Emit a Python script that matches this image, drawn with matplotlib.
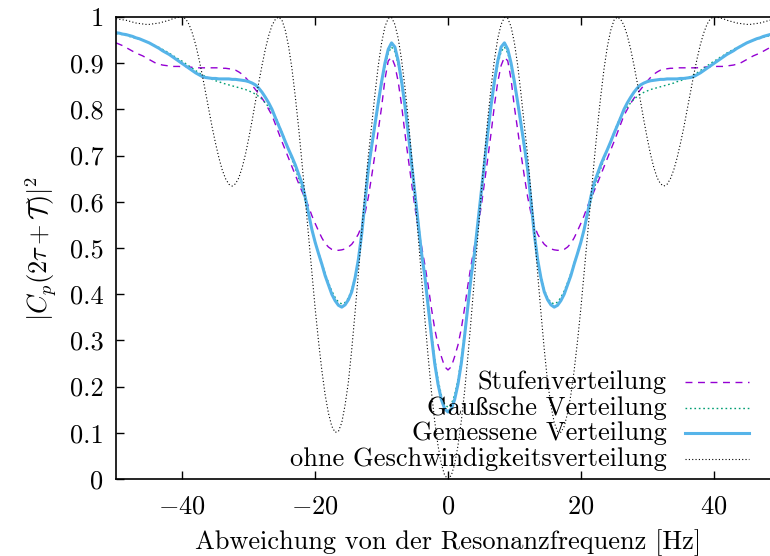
import numpy as np
import matplotlib
matplotlib.use("Agg")
import matplotlib.pyplot as plt
from matplotlib.lines import Line2D

plt.rcParams['font.family'] = ['cmr10', 'Liberation Serif', 'DejaVu Serif']
plt.rcParams['mathtext.fontset'] = 'cm'
plt.rcParams['axes.formatter.use_mathtext'] = True
plt.rcParams['axes.unicode_minus'] = True

# Detuning grid (Hz) for the non-negative half; all curves are symmetric in detuning
x_half = np.arange(0, 50.5, 0.5)

# Step-shaped velocity distribution
stufen_half = [
    0.236, 0.243, 0.265, 0.290, 0.325, 0.370, 0.420, 0.465, 0.505, 0.545,
    0.590, 0.642, 0.695, 0.750, 0.810, 0.860, 0.895, 0.913, 0.905, 0.865,
    0.805, 0.755, 0.703, 0.655, 0.610, 0.575, 0.548, 0.530, 0.518, 0.508,
    0.502, 0.498, 0.496, 0.495, 0.495, 0.497, 0.502, 0.510, 0.522, 0.537,
    0.553, 0.570, 0.590, 0.607, 0.623, 0.640, 0.658, 0.676, 0.694, 0.712,
    0.730, 0.749, 0.768, 0.787, 0.800, 0.813, 0.824, 0.834, 0.843, 0.852,
    0.861, 0.869, 0.876, 0.881, 0.885, 0.887, 0.888, 0.889, 0.889, 0.890,
    0.890, 0.890, 0.890, 0.890, 0.890, 0.890, 0.891, 0.891, 0.892, 0.892,
    0.892, 0.893, 0.893, 0.893, 0.894, 0.895, 0.896, 0.898, 0.900, 0.904,
    0.908, 0.912, 0.916, 0.919, 0.922, 0.926, 0.930, 0.934, 0.938, 0.941,
    0.944,
]

# Gaussian velocity distribution
gauss_half = [
    0.155, 0.162, 0.182, 0.215, 0.260, 0.318, 0.382, 0.446, 0.498, 0.560,
    0.622, 0.685, 0.747, 0.805, 0.855, 0.897, 0.925, 0.935, 0.922, 0.893,
    0.855, 0.810, 0.763, 0.714, 0.662, 0.595, 0.528, 0.475, 0.437, 0.410,
    0.392, 0.382, 0.379, 0.383, 0.393, 0.407, 0.425, 0.445, 0.468, 0.490,
    0.513, 0.540, 0.570, 0.600, 0.628, 0.650, 0.672, 0.692, 0.712, 0.732,
    0.750, 0.768, 0.785, 0.795, 0.805, 0.814, 0.822, 0.828, 0.833, 0.837,
    0.840, 0.843, 0.845, 0.847, 0.849, 0.851, 0.853, 0.855, 0.857, 0.860,
    0.862, 0.865, 0.868, 0.871, 0.875, 0.879, 0.884, 0.889, 0.894, 0.899,
    0.904, 0.908, 0.913, 0.917, 0.922, 0.926, 0.930, 0.934, 0.937, 0.941,
    0.944, 0.947, 0.950, 0.952, 0.954, 0.956, 0.958, 0.960, 0.962, 0.963,
    0.964,
]

# Measured velocity distribution
gemessen_half = [
    0.145, 0.152, 0.172, 0.205, 0.250, 0.310, 0.375, 0.440, 0.490, 0.555,
    0.620, 0.685, 0.750, 0.810, 0.862, 0.905, 0.935, 0.944, 0.930, 0.900,
    0.860, 0.815, 0.768, 0.720, 0.670, 0.600, 0.530, 0.475, 0.435, 0.405,
    0.388, 0.377, 0.372, 0.376, 0.386, 0.400, 0.420, 0.440, 0.465, 0.488,
    0.512, 0.540, 0.575, 0.610, 0.640, 0.660, 0.680, 0.697, 0.713, 0.730,
    0.748, 0.765, 0.782, 0.800, 0.814, 0.826, 0.837, 0.846, 0.853, 0.857,
    0.860, 0.862, 0.863, 0.864, 0.865, 0.865, 0.866, 0.866, 0.866, 0.866,
    0.867, 0.867, 0.868, 0.869, 0.871, 0.875, 0.879, 0.884, 0.889, 0.894,
    0.899, 0.904, 0.909, 0.914, 0.919, 0.923, 0.927, 0.932, 0.936, 0.940,
    0.944, 0.947, 0.950, 0.953, 0.955, 0.958, 0.960, 0.962, 0.963, 0.965,
    0.966,
]

# Without velocity distribution
ohne_half = [
    0.000, 0.008, 0.032, 0.072, 0.125, 0.190, 0.266, 0.349, 0.437, 0.527,
    0.617, 0.702, 0.781, 0.850, 0.908, 0.954, 0.984, 0.999, 0.997, 0.979,
    0.944, 0.895, 0.833, 0.765, 0.700, 0.620, 0.535, 0.445, 0.360, 0.280,
    0.210, 0.160, 0.122, 0.103, 0.101, 0.114, 0.142, 0.182, 0.235, 0.298,
    0.368, 0.446, 0.526, 0.607, 0.686, 0.761, 0.828, 0.888, 0.936, 0.971,
    0.993, 1.000, 0.995, 0.982, 0.960, 0.931, 0.896, 0.858, 0.817, 0.776,
    0.738, 0.703, 0.674, 0.652, 0.639, 0.634, 0.638, 0.650, 0.669, 0.695,
    0.726, 0.760, 0.798, 0.836, 0.874, 0.909, 0.940, 0.965, 0.984, 0.996,
    1.000, 0.9995, 0.998, 0.996, 0.993, 0.991, 0.989, 0.987, 0.986, 0.985,
    0.984, 0.984, 0.985, 0.986, 0.987, 0.989, 0.991, 0.993, 0.994, 0.995,
    0.996,
]


def full(half):
    h = np.asarray(half, dtype=float)
    return np.concatenate([h[::-1], h[1:]])


x = np.concatenate([-x_half[::-1], x_half[1:]])

series = [
    ("Stufenverteilung", full(stufen_half), dict(color="#9400D3", lw=1.0, ls=(0, (5, 4)))),
    ("Gaußsche Verteilung", full(gauss_half), dict(color="#009E73", lw=1.0, ls=(0, (1.2, 2.0)))),
    ("Gemessene Verteilung", full(gemessen_half), dict(color="#56B4E9", lw=2.2, ls="-")),
    ("ohne Geschwindigkeitsverteilung", full(ohne_half), dict(color="black", lw=0.8, ls=(0, (1, 2)))),
]

FS = 19

fig = plt.figure(figsize=(7.70, 5.56), dpi=100)
ax = fig.add_axes([116 / 770, 77 / 556, 664 / 770, 462 / 556])

for label, y, style in series:
    ax.plot(x, y, **style)

ax.set_xlim(-50, 50)
ax.set_ylim(0, 1)
ax.set_xticks([-40, -20, 0, 20, 40])
ax.set_yticks(np.arange(0, 1.01, 0.1))
ax.set_yticklabels(["0", "0.1", "0.2", "0.3", "0.4", "0.5", "0.6", "0.7", "0.8", "0.9", "1"])
ax.tick_params(direction="in", length=6, width=1.0, top=True, right=True,
               labelsize=FS, pad=9)
ax.tick_params(axis="x", pad=11)
for s in ax.spines.values():
    s.set_linewidth(1.2)

ax.set_xlabel("Abweichung von der Resonanzfrequenz [Hz]", fontsize=FS, labelpad=8)
ax.set_ylabel(r"$|C_p(2\tau+\mathcal{T})|^2$", fontsize=FS, labelpad=8)

# Key: right-aligned labels with line samples to their right
rows_y = [0.2103, 0.1537, 0.0996, 0.0433]
for (label, y, style), ry in zip(series, rows_y):
    ax.text(0.8290, ry, label, transform=ax.transAxes, ha="right", va="center",
            fontsize=FS)
    ax.add_line(Line2D([0.8565, 0.953], [ry, ry], transform=ax.transAxes, **style))

fig.savefig("out.png", dpi=100)
